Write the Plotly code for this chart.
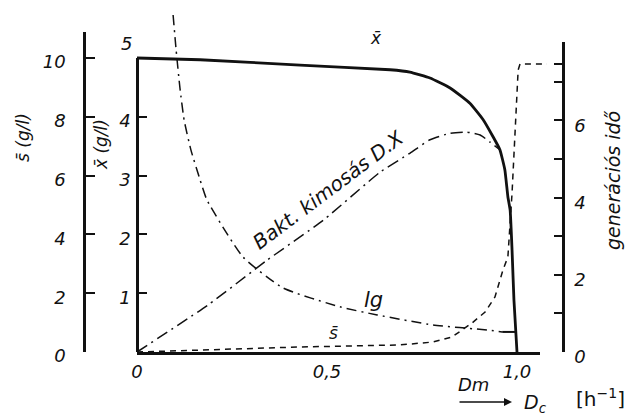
import plotly.graph_objects as go

W, H = 632, 417

# ---- data ----
# x̄ biomass (g/l, left inner axis) vs dilution rate D
D_x = [0.0, 0.166, 0.429, 0.666, 0.718, 0.771, 0.824, 0.876, 0.911, 0.937, 0.955,
       0.968, 0.976, 0.982, 0.987, 0.992, 1.0]
X_bar = [5.0, 4.97, 4.88, 4.80, 4.76, 4.66, 4.49, 4.23, 3.95, 3.66, 3.44,
         3.10, 2.64, 2.41, 1.73, 0.88, 0.0]

# Bakt. kimosás D.X (same scale as x̄)
D_dx = [0.0, 0.187, 0.342, 0.49, 0.64, 0.718, 0.771, 0.824, 0.868, 0.903, 0.929, 0.955]
DX = [0.0, 0.80, 1.56, 2.24, 3.06, 3.38, 3.61, 3.72, 3.74, 3.69, 3.57, 3.44]

# lg  - generációs idő (right axis)
D_lg = [0.095, 0.103, 0.113, 0.124, 0.142, 0.166, 0.184, 0.279, 0.384, 0.534, 0.632,
        0.779, 0.921, 0.961]
LG = [8.73, 7.82, 6.84, 6.01, 5.23, 4.46, 3.94, 2.46, 1.66, 1.17, 0.96,
      0.70, 0.57, 0.52]
D_lg_end = [0.961, 1.0]
LG_end = [0.52, 0.52]

# s̄ substrate (g/l, outer left axis)
D_s = [0.0, 0.166, 0.429, 0.692, 0.779, 0.829, 0.882, 0.916, 0.942, 0.963, 0.976,
       0.987, 1.003, 1.008, 1.079]
S_bar = [0.0, 0.07, 0.17, 0.24, 0.34, 0.51, 0.99, 1.36, 1.87, 2.79, 3.23,
         5.41, 9.59, 9.80, 9.80]

# tick values / labels
x_ticks = [0, 0.5, 1.0]
x_ticktext = ["0", "0,5", "1,0"]
xbar_ticks = [1, 2, 3, 4]
s_ticks = [0, 2, 4, 6, 8, 10]
g_ticks = [0, 2, 4, 6]
g_minor_ticks = [1, 3, 5, 7, 7.46]

# ---- geometry helpers (pixel -> paper) ----
def px(x):
    return x / W

def py(y):
    return 1 - y / H

FONT = "DejaVu Sans"
BLACK = "#111111"

fig = go.Figure()

common = dict(xaxis="x2", hoverinfo="skip", showlegend=False, mode="lines")

fig.add_trace(go.Scatter(x=D_s, y=S_bar, yaxis="y6",
                         line=dict(color=BLACK, width=1.5, dash="6px,5px"), **common))
fig.add_trace(go.Scatter(x=D_dx, y=DX, yaxis="y4",
                         line=dict(color=BLACK, width=1.5, dash="12px,5px,2px,5px",
                                   shape="spline", smoothing=0.5), **common))
fig.add_trace(go.Scatter(x=D_lg, y=LG, yaxis="y5",
                         line=dict(color=BLACK, width=1.5, dash="10px,5px,2px,5px",
                                   shape="spline", smoothing=0.5), **common))
fig.add_trace(go.Scatter(x=D_lg_end, y=LG_end, yaxis="y5",
                         line=dict(color=BLACK, width=2), **common))
fig.add_trace(go.Scatter(x=D_x, y=X_bar, yaxis="y4",
                         line=dict(color=BLACK, width=2.8, shape="spline", smoothing=0.4),
                         **common))

# dummy traces so the visible axes form subplots
for ya in ["y", "y2", "y3"]:
    fig.add_trace(go.Scatter(x=[0], y=[0], xaxis="x", yaxis=ya, mode="lines",
                             line=dict(width=0), hoverinfo="skip", showlegend=False))

tickfont = dict(family=FONT, size=18, color=BLACK, style="italic")

ydom_x = [py(352), py(58)]
ydom_s = [py(352), py(32)]
ydom_g = [py(352), py(42)]

base = dict(showgrid=False, zeroline=False, fixedrange=True, automargin=False)

fig.update_layout(
    template="none",
    width=W, height=H,
    margin=dict(l=0, r=0, t=0, b=0, pad=0),
    paper_bgcolor="white", plot_bgcolor="rgba(0,0,0,0)",
    font=dict(family=FONT, color=BLACK),
    xaxis=dict(domain=[px(137), px(540)], range=[0, 403 / 380], anchor="y",
               showline=True, linewidth=2.5, linecolor=BLACK, ticks="",
               tickvals=x_ticks, ticktext=x_ticktext, tickfont=tickfont,
               ticklabelstandoff=2, **base),
    yaxis=dict(domain=ydom_x, range=[0, 5], anchor="free", position=px(137), side="left",
               showline=True, linewidth=2.5, linecolor=BLACK, ticks="inside", ticklen=8,
               tickwidth=1.5, tickcolor=BLACK, tickvals=xbar_ticks, tickfont=tickfont,
               ticklabelshift=4, ticklabelstandoff=2, **base),
    yaxis2=dict(domain=ydom_s, range=[0, 320 / 29.4], anchor="free", position=px(84),
                side="left", showline=True, linewidth=2.5, linecolor=BLACK, ticks="inside",
                ticklen=9, tickwidth=1.5, tickcolor=BLACK, tickvals=s_ticks,
                tickfont=tickfont, ticklabelstandoff=14, ticklabelshift=4, **base),
    yaxis3=dict(domain=ydom_g, range=[0, 310 / 38.6], anchor="free", position=px(563),
                side="right", showline=True, linewidth=2.5, linecolor=BLACK, ticks="inside",
                ticklen=8, tickwidth=1.5, tickcolor=BLACK, tickvals=g_ticks,
                tickfont=tickfont, ticklabelstandoff=6, ticklabelshift=5,
                minor=dict(tickvals=g_minor_ticks, ticks="inside", ticklen=8,
                           tickwidth=1.5, tickcolor=BLACK, showgrid=False),
                **base),
    xaxis2=dict(domain=[0, 1], range=[-137 / 380, 495 / 380], anchor="y4", visible=False,
                **base),
    yaxis4=dict(domain=[0, 1], range=[-65 / 58.8, 352 / 58.8], anchor="x2", visible=False,
                **base),
    yaxis5=dict(domain=[0, 1], range=[-65 / 38.6, 352 / 38.6], anchor="x2", visible=False,
                **base),
    yaxis6=dict(domain=[0, 1], range=[-65 / 29.4, 352 / 29.4], anchor="x2", visible=False,
                **base),
)

def note(text, x, y, size=17, angle=0, italic=True):
    fig.add_annotation(text=text, x=px(x), y=py(y), xref="paper", yref="paper",
                       xanchor="center", yanchor="middle",
                       showarrow=False, textangle=angle,
                       font=dict(family=FONT, size=size, color=BLACK,
                                 style="italic" if italic else "normal"))

note("5", 126, 43, size=18)
note("x̄", 376, 38, size=17)
note("Bakt. kimosás D.X", 328, 190, size=20, angle=-37)
note("lg", 373, 300, size=21)
note("s̄", 333, 333, size=17)
note("Dm", 473, 384, size=18)
note("D<sub>c</sub>", 535, 403, size=19)
note("[h<sup>−1</sup>]", 600, 398, size=20, italic=False)
note("s̄ (g/l)", 23, 138, size=17, angle=-90)
note("x̄ (g/l)", 101, 145, size=17, angle=-90)
note("generációs idő", 613, 180, size=19, angle=-90)

# arrow under "Dm"
fig.add_annotation(text="", x=px(512), y=py(402), xref="paper", yref="paper",
                   ax=-54, ay=0, showarrow=True, arrowhead=2, arrowsize=1,
                   arrowwidth=1.6, arrowcolor=BLACK)

fig.write_html(
    "out.html",
    config={"displayModeBar": False},
    post_script="document.body.style.margin='0';document.body.style.overflow='hidden';",
)
